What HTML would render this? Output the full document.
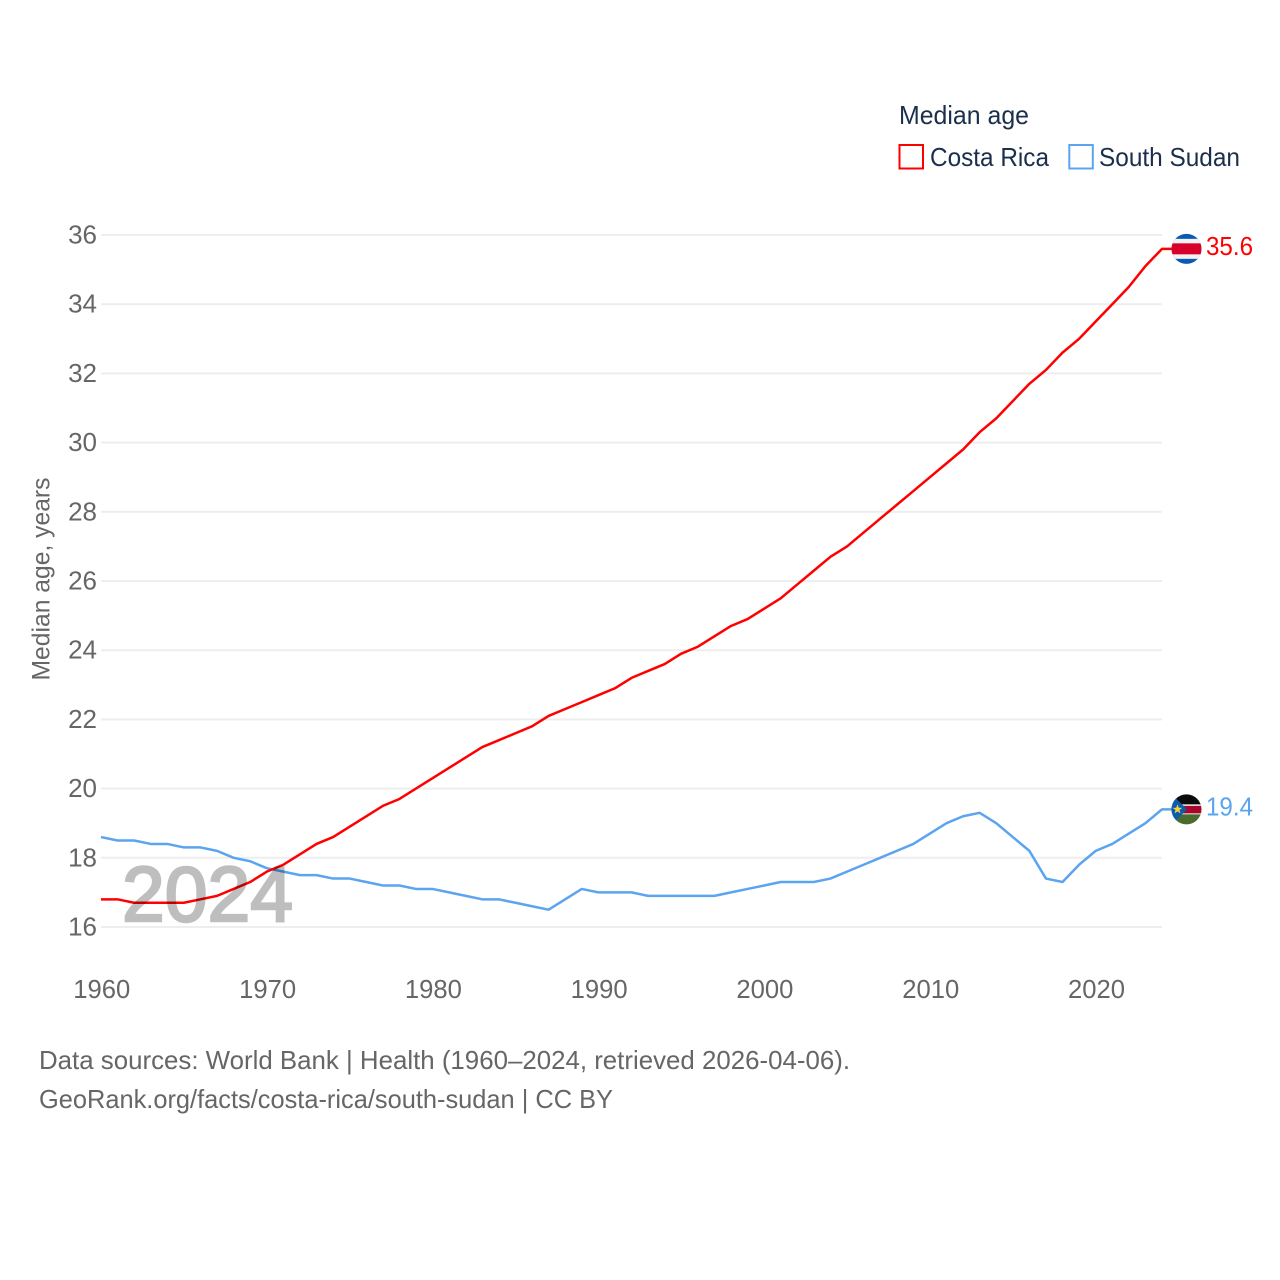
<!DOCTYPE html>
<html lang="en">
<head>
<meta charset="utf-8">
<title>Median age: Costa Rica and South Sudan</title>
<style>
html,body{margin:0;padding:0;background:#fff;width:1280px;height:1280px;overflow:hidden}
svg{display:block;font-family:"Liberation Sans",sans-serif}
</style>
</head>
<body>
<svg id="chart" xmlns="http://www.w3.org/2000/svg" width="1280" height="1280" viewBox="0 0 1280 1280">
  <g id="grid"></g>
  <g id="yticks"></g>
  <g id="xticks"></g>
  <text transform="translate(49.500,579) rotate(-90)" text-anchor="middle" font-size="25" fill="#666" textLength="203" lengthAdjust="spacingAndGlyphs">Median age, years</text>
  <g id="series"></g>
  <text x="122" y="921" font-size="78" fill="#000" stroke="#000" stroke-width="2.500" opacity="0.25" textLength="171" lengthAdjust="spacingAndGlyphs">2024</text>
  <g id="endmarks"></g>
  <g>
    <text x="899" y="124" font-size="26" fill="#1a2f4b" textLength="130" lengthAdjust="spacingAndGlyphs">Median age</text>
    <g>
      <rect x="899.500" y="145" width="23.500" height="23.500" fill="#fff" stroke="#ff0000" stroke-width="2"/>
      <text x="930" y="166" font-size="26" fill="#1a2f4b" textLength="119" lengthAdjust="spacingAndGlyphs">Costa Rica</text>
    </g>
    <g>
      <rect x="1069.300" y="145" width="23.500" height="23.500" fill="#fff" stroke="#5ba4f0" stroke-width="2"/>
      <text x="1099" y="166" font-size="26" fill="#1a2f4b" textLength="141" lengthAdjust="spacingAndGlyphs">South Sudan</text>
    </g>
  </g>
  <g>
    <text x="39" y="1069" font-size="26" fill="#666" textLength="811" lengthAdjust="spacingAndGlyphs">Data sources: World Bank | Health (1960–2024, retrieved 2026-04-06).</text>
    <text x="39" y="1108" font-size="26" fill="#666" textLength="574" lengthAdjust="spacingAndGlyphs">GeoRank.org/facts/costa-rica/south-sudan | CC BY</text>
  </g>
</svg>
<script>
const startYear = 1960;
const yTickValues = [16,18,20,22,24,26,28,30,32,34,36];
const xTickValues = [1960,1970,1980,1990,2000,2010,2020];
const costaRicaValues = [16.8,16.8,16.7,16.7,16.7,16.7,16.8,16.9,17.1,17.3,17.6,17.8,18.1,18.4,18.6,18.9,19.2,19.5,19.7,20.0,20.3,20.6,20.9,21.2,21.4,21.6,21.8,22.1,22.3,22.5,22.7,22.9,23.2,23.4,23.6,23.9,24.1,24.4,24.7,24.9,25.2,25.5,25.9,26.3,26.7,27.0,27.4,27.8,28.2,28.6,29.0,29.4,29.8,30.3,30.7,31.2,31.7,32.1,32.6,33.0,33.5,34.0,34.5,35.1,35.6];
const southSudanValues = [18.6,18.5,18.5,18.4,18.4,18.3,18.3,18.2,18.0,17.9,17.7,17.6,17.5,17.5,17.4,17.4,17.3,17.2,17.2,17.1,17.1,17.0,16.9,16.8,16.8,16.7,16.6,16.5,16.8,17.1,17.0,17.0,17.0,16.9,16.9,16.9,16.9,16.9,17.0,17.1,17.2,17.3,17.3,17.3,17.4,17.6,17.8,18.0,18.2,18.4,18.7,19.0,19.2,19.3,19.0,18.6,18.2,17.4,17.3,17.8,18.2,18.4,18.7,19.0,19.4];

const NS = 'http://www.w3.org/2000/svg';
function xScale(year){ return 101 + (year - 1960) * (1162 - 101) / 64; }
function yScale(v){ return 927 - (v - 16) * (927 - 235) / 20; }
function make(tag, attrs, parent, text){
  const el = document.createElementNS(NS, tag);
  for (const k in attrs) el.setAttribute(k, attrs[k]);
  if (text !== undefined) el.textContent = text;
  parent.appendChild(el);
  return el;
}
const grid = document.getElementById('grid');
const yticks = document.getElementById('yticks');
const xticks = document.getElementById('xticks');
const series = document.getElementById('series');
const endmarks = document.getElementById('endmarks');

yTickValues.forEach(function(v){
  const line = make('line', {x1:101, x2:1162, y1:yScale(v), y2:yScale(v), stroke:'#eeeeee', 'stroke-width':2}, grid);
  
  
  const label = make('text', {x:97, y:yScale(v)+8.5, 'text-anchor':'end', 'font-size':26, fill:'#666'}, yticks, String(v));
  
  
});
xTickValues.forEach(function(y){
  const label = make('text', {x:xScale(y)+0.8, y:998, 'text-anchor':'middle', 'font-size':26, fill:'#666', textLength:57, lengthAdjust:'spacingAndGlyphs'}, xticks, String(y));
  
  
});

function drawLine(values, color){
  const pts = values.map(function(v, i){ return xScale(startYear + i).toFixed(2) + ',' + yScale(v).toFixed(2); });
  const lastY = yScale(values[values.length - 1]);
  pts.push('1172,' + lastY.toFixed(2));
  return make('polyline', {points:pts.join(' '), fill:'none', stroke:color, 'stroke-width':2.5, 'stroke-linejoin':'round'}, series);
}
const lineSouthSudan = drawLine(southSudanValues, '#5ba4f0');


const lineCostaRica = drawLine(costaRicaValues, '#ff0000');



function clipFor(id, cy){
  const defs = make('defs', {}, endmarks);
  const cp = make('clipPath', {id:id}, defs);
  make('circle', {cx:1186.5, cy:cy, r:15}, cp);
}
/* Costa Rica flag + value */
const crY = yScale(costaRicaValues[costaRicaValues.length - 1]);
clipFor('clip-cr', crY);
const crFlag = make('g', {'clip-path':'url(#clip-cr)'}, endmarks);


make('rect', {x:1171, y:crY-16, width:31, height:32, fill:'#0a5bb5'}, crFlag);
make('rect', {x:1171, y:crY-10, width:31, height:20, fill:'#f2f2f2'}, crFlag);
make('rect', {x:1171, y:crY-5.500, width:31, height:11, fill:'#d6002a'}, crFlag);
const crLabel = make('text', {x:1206, y:crY+6, 'font-size':26, fill:'#ff0000', textLength:47, lengthAdjust:'spacingAndGlyphs'}, endmarks, costaRicaValues[costaRicaValues.length - 1].toFixed(1));



/* South Sudan flag + value */
const ssY = yScale(southSudanValues[southSudanValues.length - 1]);
clipFor('clip-ss', ssY);
const ssFlag = make('g', {'clip-path':'url(#clip-ss)'}, endmarks);


make('rect', {x:1171, y:ssY-16, width:31, height:12, fill:'#0b0b0b'}, ssFlag);
make('rect', {x:1171, y:ssY-5, width:31, height:11, fill:'#f2f2f2'}, ssFlag);
make('rect', {x:1171, y:ssY-3.500, width:31, height:7.500, fill:'#a8062b'}, ssFlag);
make('rect', {x:1171, y:ssY+5, width:31, height:11, fill:'#4a6b2e'}, ssFlag);
make('polygon', {points:[1171, ssY-16, 1187, ssY, 1171, ssY+16].join(' '), fill:'#0b5cb0'}, ssFlag);
const starOffsets = [[0,-5],[1.3,-1.6],[4.8,-1.5],[2,0.7],[3,4],[0,2],[-3,4],[-2,0.7],[-4.8,-1.5],[-1.3,-1.6]];
make('polygon', {points:starOffsets.map(function(o){ return (1177.5 + o[0]) + ',' + (ssY + o[1]); }).join(' '), fill:'#f4d33a'}, ssFlag);
const ssLabel = make('text', {x:1206, y:ssY+6, 'font-size':26, fill:'#5ba4f0', textLength:47, lengthAdjust:'spacingAndGlyphs'}, endmarks, southSudanValues[southSudanValues.length - 1].toFixed(1));


</script>
</body>
</html>
